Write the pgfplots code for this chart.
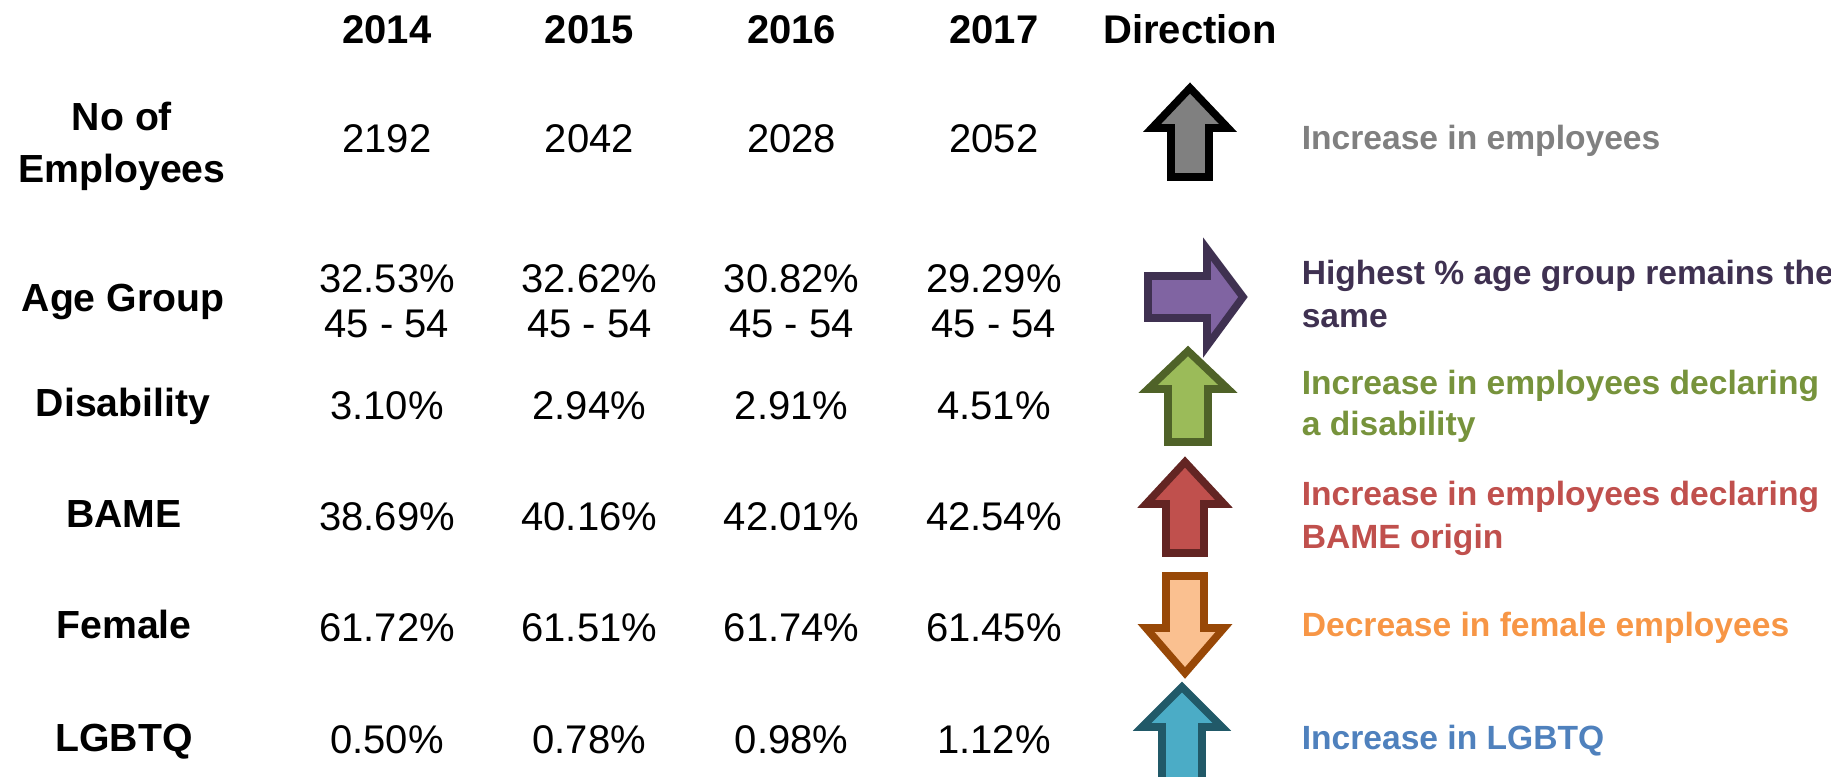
\documentclass[border=0pt]{standalone}
\usepackage{fontspec}
\setmainfont{Liberation Sans}
\usepackage{pgfplots}
\usepackage{pgfplotstable}
\pgfplotsset{compat=1.18}

\definecolor{gfill}{HTML}{808080}
\definecolor{pfill}{HTML}{8064A2}
\definecolor{pline}{HTML}{3F3151}
\definecolor{grfill}{HTML}{9BBB59}
\definecolor{grline}{HTML}{4F6228}
\definecolor{grtext}{HTML}{77933C}
\definecolor{rfill}{HTML}{C0504D}
\definecolor{rline}{HTML}{632523}
\definecolor{ofill}{HTML}{FAC090}
\definecolor{oline}{HTML}{984807}
\definecolor{otext}{HTML}{F79646}
\definecolor{bfill}{HTML}{4BACC6}
\definecolor{bline}{HTML}{215968}
\definecolor{btext}{HTML}{4F81BD}

\pgfplotstableread{
year emp age lo hi dis bame fem lgbtq
2014 2192 32.53 45 54 3.10 38.69 61.72 0.50
2015 2042 32.62 45 54 2.94 40.16 61.51 0.78
2016 2028 30.82 45 54 2.91 42.01 61.74 0.98
2017 2052 29.29 45 54 4.51 42.54 61.45 1.12
}\stats

\newcommand\pct{\pgfmathprintnumber[fixed,fixed zerofill,precision=2]{\pgfplotspointmeta}\%}

\tikzset{
  lab/.style={anchor=center, inner sep=0pt, text height=7.0pt, text depth=0pt,
    font=\bfseries\fontsize{9.8}{12}\selectfont},
  desc/.style={anchor=west, inner sep=0pt, text height=6.0pt, text depth=0pt,
    font=\bfseries\fontsize{8.4}{10}\selectfont},
  arr/.style={line width=1.9pt, line join=miter, miter limit=10},
}

\begin{document}
\begin{tikzpicture}
\begin{axis}[
  width=457.75pt, height=194.25pt, scale only axis,
  xmin=0, xmax=1831, ymin=0, ymax=777, y dir=reverse,
  hide axis,
  /pgf/number format/assume math mode=true,
  every node near coord/.append style={anchor=center, inner sep=0pt,
    text height=7.16pt, text depth=0pt,
    font=\fontsize{10}{12}\selectfont, text=black},
]
\addplot[draw=none] coordinates {(0,0) (1831,777)};

% year headers
\addplot[draw=none, nodes near coords={\bfseries\pgfmathprintnumber[fixed,precision=0,1000 sep={}]{\pgfplotspointmeta}},
  point meta=\thisrow{year}] table[x expr=387+(\thisrow{year}-2014)*202.3, y expr=29] {\stats};
% employees
\addplot[draw=none, nodes near coords={\pgfmathprintnumber[fixed,precision=0,1000 sep={}]{\pgfplotspointmeta}},
  point meta=\thisrow{emp}] table[x expr=387+(\thisrow{year}-2014)*202.3, y expr=138] {\stats};
% age group
\addplot[draw=none, nodes near coords={\pct}, point meta=\thisrow{age}]
  table[x expr=387+(\thisrow{year}-2014)*202.3, y expr=278] {\stats};
\addplot[draw=none, visualization depends on=\thisrow{hi}\as\hiage,
  nodes near coords={\pgfmathprintnumber[fixed,precision=0]{\pgfplotspointmeta} - \pgfmathprintnumber[fixed,precision=0]{\hiage}}, point meta=\thisrow{lo}]
  table[x expr=387+(\thisrow{year}-2014)*202.3, y expr=323] {\stats};
% disability
\addplot[draw=none, nodes near coords={\pct}, point meta=\thisrow{dis}]
  table[x expr=387+(\thisrow{year}-2014)*202.3, y expr=405] {\stats};
% BAME
\addplot[draw=none, nodes near coords={\pct}, point meta=\thisrow{bame}]
  table[x expr=387+(\thisrow{year}-2014)*202.3, y expr=516] {\stats};
% Female
\addplot[draw=none, nodes near coords={\pct}, point meta=\thisrow{fem}]
  table[x expr=387+(\thisrow{year}-2014)*202.3, y expr=627] {\stats};
% LGBTQ
\addplot[draw=none, nodes near coords={\pct}, point meta=\thisrow{lgbtq}]
  table[x expr=387+(\thisrow{year}-2014)*202.3, y expr=739] {\stats};

% arrows
\addplot[arr, draw=black, fill=gfill] coordinates
  {(1190,88) (1228,128) (1209,128) (1209,177) (1171,177) (1171,128) (1152,128)} -- cycle;
\addplot[arr, draw=pline, fill=pfill] coordinates
  {(1243,297) (1207,249) (1207,276) (1148,276) (1148,318) (1207,318) (1207,346)} -- cycle;
\addplot[arr, draw=grline, fill=grfill] coordinates
  {(1188,351) (1228,389) (1208,389) (1208,442) (1168,442) (1168,389) (1148,389)} -- cycle;
\addplot[arr, draw=rline, fill=rfill] coordinates
  {(1185,462) (1224,504) (1204,504) (1204,553) (1166,553) (1166,504) (1146,504)} -- cycle;
\addplot[arr, draw=oline, fill=ofill] coordinates
  {(1185,673) (1224,628) (1204,628) (1204,576) (1166,576) (1166,628) (1146,628)} -- cycle;
\addplot[arr, draw=bline, fill=bfill] coordinates
  {(1182,687) (1222,727) (1202,727) (1202,800) (1162,800) (1162,727) (1142,727)} -- cycle;

% header and row labels
\node[lab, font=\bfseries\fontsize{10}{12}\selectfont, text height=7.16pt] at (axis cs:1190,29) {Direction};
\node[lab] at (axis cs:122,117) {No of};
\node[lab] at (axis cs:122,169) {Employees};
\node[lab] at (axis cs:123,298) {Age Group};
\node[lab] at (axis cs:123,403) {Disability};
\node[lab] at (axis cs:124,514) {BAME};
\node[lab] at (axis cs:124,625) {Female};
\node[lab] at (axis cs:124,738) {LGBTQ};

% descriptions
\node[desc, text=gfill] at (axis cs:1301,138) {Increase in employees};
\node[desc, text=pline] at (axis cs:1301,273) {Highest \% age group remains the};
\node[desc, text=pline] at (axis cs:1301,316) {same};
\node[desc, text=grtext] at (axis cs:1301,383) {Increase in employees declaring};
\node[desc, text=grtext] at (axis cs:1301,424) {a disability};
\node[desc, text=rfill] at (axis cs:1301,494) {Increase in employees declaring};
\node[desc, text=rfill] at (axis cs:1301,537) {BAME origin};
\node[desc, text=otext] at (axis cs:1301,625) {Decrease in female employees};
\node[desc, text=btext] at (axis cs:1301,738) {Increase in LGBTQ};
\end{axis}
\end{tikzpicture}
\end{document}
